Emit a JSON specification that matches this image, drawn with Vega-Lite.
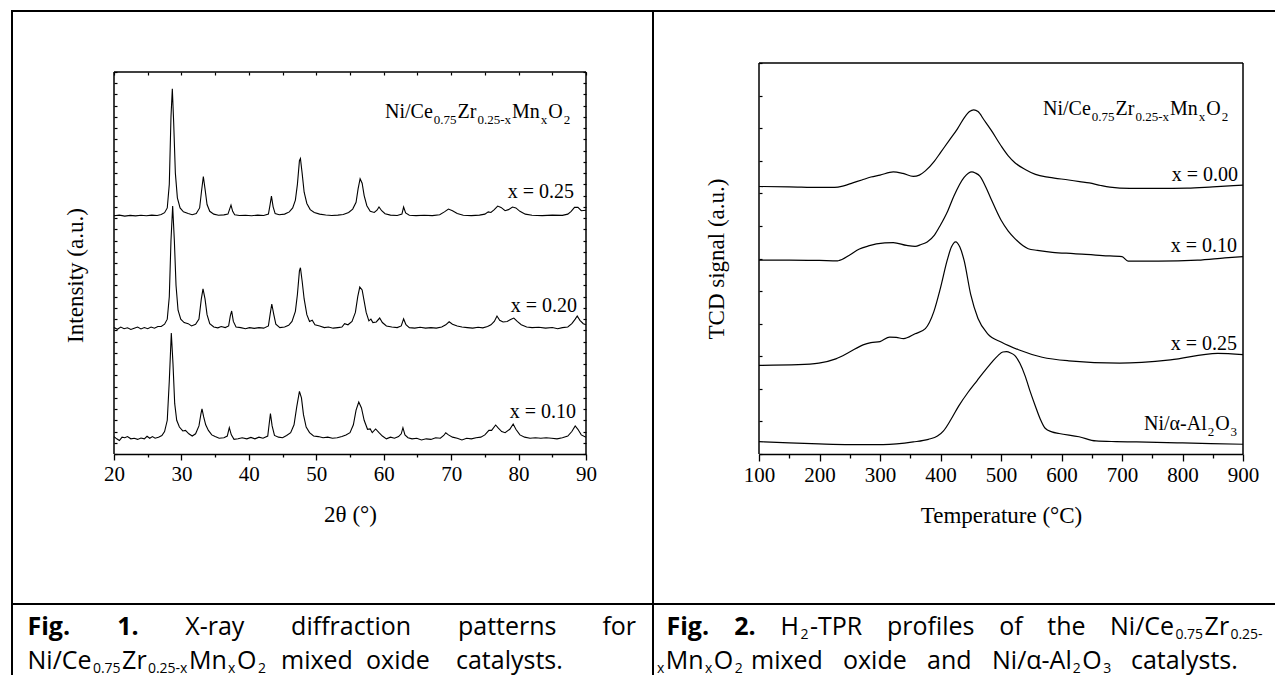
{
  "$schema": "https://vega.github.io/schema/vega-lite/v6.json",
  "background": "white",
  "padding": {"left": 10, "top": 9, "right": 0, "bottom": 0},
  "autosize": {"type": "pad"},
  "spacing": 173,
  "bounds": "flush",
  "config": {"view": {"stroke": null}, "axis": {"grid": false}},
  "datasets": {
    "xrd": [
      {"s":"0.25","x":20,"y":212},{"s":"0.25","x":20.8,"y":212.6},{"s":"0.25","x":21.6,"y":211.7},{"s":"0.25","x":22.4,"y":212.4},{"s":"0.25","x":23.2,"y":211.9},{"s":"0.25","x":24,"y":212.5},{"s":"0.25","x":24.8,"y":212},{"s":"0.25","x":25.6,"y":212.6},{"s":"0.25","x":26.4,"y":212.3},{"s":"0.25","x":27,"y":213.2},{"s":"0.25","x":27.5,"y":214.8},{"s":"0.25","x":27.9,"y":219},{"s":"0.25","x":28.2,"y":240},{"s":"0.25","x":28.45,"y":300},{"s":"0.25","x":28.65,"y":325},{"s":"0.25","x":28.85,"y":295},{"s":"0.25","x":29.1,"y":250},{"s":"0.25","x":29.4,"y":228},{"s":"0.25","x":29.8,"y":219},{"s":"0.25","x":30.3,"y":215.5},{"s":"0.25","x":31,"y":214},{"s":"0.25","x":31.6,"y":213},{"s":"0.25","x":32.2,"y":214},{"s":"0.25","x":32.7,"y":219},{"s":"0.25","x":33,"y":235},{"s":"0.25","x":33.25,"y":247},{"s":"0.25","x":33.5,"y":236},{"s":"0.25","x":33.8,"y":222},{"s":"0.25","x":34.2,"y":216},{"s":"0.25","x":34.8,"y":213.5},{"s":"0.25","x":35.5,"y":212.5},{"s":"0.25","x":36.3,"y":212.8},{"s":"0.25","x":36.9,"y":213.5},{"s":"0.25","x":37.15,"y":218},{"s":"0.25","x":37.35,"y":221.5},{"s":"0.25","x":37.6,"y":216},{"s":"0.25","x":37.9,"y":213},{"s":"0.25","x":38.6,"y":212.3},{"s":"0.25","x":39.5,"y":212.5},{"s":"0.25","x":40.4,"y":212},{"s":"0.25","x":41.3,"y":212.6},{"s":"0.25","x":42.2,"y":212.3},{"s":"0.25","x":42.9,"y":213.5},{"s":"0.25","x":43.15,"y":222},{"s":"0.25","x":43.35,"y":229.5},{"s":"0.25","x":43.6,"y":220},{"s":"0.25","x":43.9,"y":214},{"s":"0.25","x":44.5,"y":213},{"s":"0.25","x":45.3,"y":213.5},{"s":"0.25","x":46,"y":215.5},{"s":"0.25","x":46.5,"y":219},{"s":"0.25","x":46.9,"y":226},{"s":"0.25","x":47.2,"y":240},{"s":"0.25","x":47.5,"y":261},{"s":"0.25","x":47.65,"y":263},{"s":"0.25","x":47.9,"y":250},{"s":"0.25","x":48.2,"y":233},{"s":"0.25","x":48.6,"y":223},{"s":"0.25","x":49.1,"y":217.5},{"s":"0.25","x":49.7,"y":215},{"s":"0.25","x":50.5,"y":213.5},{"s":"0.25","x":51.4,"y":212.7},{"s":"0.25","x":52.3,"y":212.3},{"s":"0.25","x":53.2,"y":212.6},{"s":"0.25","x":54,"y":213.2},{"s":"0.25","x":54.8,"y":215},{"s":"0.25","x":55.4,"y":218},{"s":"0.25","x":55.9,"y":224},{"s":"0.25","x":56.2,"y":236},{"s":"0.25","x":56.5,"y":245},{"s":"0.25","x":56.8,"y":241},{"s":"0.25","x":57.1,"y":230},{"s":"0.25","x":57.5,"y":221},{"s":"0.25","x":58,"y":216},{"s":"0.25","x":58.6,"y":215},{"s":"0.25","x":59,"y":217},{"s":"0.25","x":59.3,"y":219.8},{"s":"0.25","x":59.7,"y":216.5},{"s":"0.25","x":60.2,"y":213.8},{"s":"0.25","x":61,"y":212.6},{"s":"0.25","x":62,"y":212.3},{"s":"0.25","x":62.7,"y":213.5},{"s":"0.25","x":62.95,"y":219.8},{"s":"0.25","x":63.25,"y":214.5},{"s":"0.25","x":63.8,"y":212.5},{"s":"0.25","x":64.8,"y":212.2},{"s":"0.25","x":66,"y":212.5},{"s":"0.25","x":67.2,"y":212.2},{"s":"0.25","x":68.3,"y":213},{"s":"0.25","x":69,"y":215.5},{"s":"0.25","x":69.6,"y":218},{"s":"0.25","x":70.2,"y":216.5},{"s":"0.25","x":70.9,"y":214},{"s":"0.25","x":71.8,"y":212.5},{"s":"0.25","x":73,"y":212.2},{"s":"0.25","x":74.2,"y":212.6},{"s":"0.25","x":75,"y":213.5},{"s":"0.25","x":75.5,"y":215.5},{"s":"0.25","x":75.9,"y":215},{"s":"0.25","x":76.4,"y":217.5},{"s":"0.25","x":76.9,"y":220.7},{"s":"0.25","x":77.4,"y":219.5},{"s":"0.25","x":78,"y":216.5},{"s":"0.25","x":78.5,"y":217.5},{"s":"0.25","x":79.1,"y":219.8},{"s":"0.25","x":79.6,"y":219},{"s":"0.25","x":80.2,"y":216},{"s":"0.25","x":81,"y":213.5},{"s":"0.25","x":82,"y":212.5},{"s":"0.25","x":83.5,"y":212.2},{"s":"0.25","x":85,"y":212.6},{"s":"0.25","x":86.5,"y":212.4},{"s":"0.25","x":87.3,"y":213.5},{"s":"0.25","x":87.8,"y":216},{"s":"0.25","x":88.3,"y":219.5},{"s":"0.25","x":88.8,"y":219.5},{"s":"0.25","x":89.3,"y":216.5},{"s":"0.25","x":90,"y":217},
      {"s":"0.20","x":20,"y":112.5},{"s":"0.20","x":20.5,"y":111},{"s":"0.20","x":21,"y":113},{"s":"0.20","x":21.5,"y":111.5},{"s":"0.20","x":22,"y":112.3},{"s":"0.20","x":22.5,"y":110.8},{"s":"0.20","x":23,"y":112},{"s":"0.20","x":23.5,"y":113},{"s":"0.20","x":24,"y":111.3},{"s":"0.20","x":24.5,"y":112.5},{"s":"0.20","x":25,"y":111.5},{"s":"0.20","x":25.5,"y":113},{"s":"0.20","x":26,"y":112},{"s":"0.20","x":26.5,"y":113.5},{"s":"0.20","x":27,"y":113.5},{"s":"0.20","x":27.5,"y":115.5},{"s":"0.20","x":27.9,"y":120},{"s":"0.20","x":28.2,"y":140},{"s":"0.20","x":28.45,"y":190},{"s":"0.20","x":28.7,"y":220.7},{"s":"0.20","x":28.95,"y":190},{"s":"0.20","x":29.2,"y":150},{"s":"0.20","x":29.5,"y":128},{"s":"0.20","x":29.9,"y":120},{"s":"0.20","x":30.4,"y":117},{"s":"0.20","x":31,"y":116},{"s":"0.20","x":31.5,"y":114},{"s":"0.20","x":32.1,"y":115.5},{"s":"0.20","x":32.6,"y":120},{"s":"0.20","x":32.95,"y":138},{"s":"0.20","x":33.2,"y":147},{"s":"0.20","x":33.5,"y":138},{"s":"0.20","x":33.8,"y":124},{"s":"0.20","x":34.2,"y":116},{"s":"0.20","x":34.8,"y":113},{"s":"0.20","x":35.4,"y":112.3},{"s":"0.20","x":35.9,"y":113.5},{"s":"0.20","x":36.5,"y":112.5},{"s":"0.20","x":37,"y":114},{"s":"0.20","x":37.25,"y":123},{"s":"0.20","x":37.45,"y":127.3},{"s":"0.20","x":37.7,"y":118},{"s":"0.20","x":38.1,"y":113},{"s":"0.20","x":38.8,"y":112.5},{"s":"0.20","x":39.5,"y":111.5},{"s":"0.20","x":40.1,"y":112.5},{"s":"0.20","x":40.8,"y":111.8},{"s":"0.20","x":41.5,"y":112.5},{"s":"0.20","x":42.2,"y":112},{"s":"0.20","x":42.9,"y":114},{"s":"0.20","x":43.2,"y":126},{"s":"0.20","x":43.4,"y":133.5},{"s":"0.20","x":43.7,"y":124},{"s":"0.20","x":44,"y":115.5},{"s":"0.20","x":44.6,"y":112.5},{"s":"0.20","x":45.3,"y":113},{"s":"0.20","x":45.9,"y":114.5},{"s":"0.20","x":46.4,"y":118},{"s":"0.20","x":46.9,"y":127},{"s":"0.20","x":47.2,"y":142},{"s":"0.20","x":47.5,"y":163},{"s":"0.20","x":47.65,"y":165.8},{"s":"0.20","x":47.9,"y":154},{"s":"0.20","x":48.2,"y":138},{"s":"0.20","x":48.6,"y":124},{"s":"0.20","x":49,"y":118},{"s":"0.20","x":49.4,"y":119},{"s":"0.20","x":49.8,"y":115},{"s":"0.20","x":50.5,"y":114},{"s":"0.20","x":51.2,"y":112.5},{"s":"0.20","x":51.8,"y":113},{"s":"0.20","x":52.5,"y":112},{"s":"0.20","x":53.2,"y":112.5},{"s":"0.20","x":53.8,"y":113},{"s":"0.20","x":54.2,"y":116},{"s":"0.20","x":54.7,"y":115},{"s":"0.20","x":55.3,"y":118},{"s":"0.20","x":55.8,"y":126},{"s":"0.20","x":56.15,"y":140},{"s":"0.20","x":56.45,"y":148.6},{"s":"0.20","x":56.8,"y":146},{"s":"0.20","x":57.1,"y":136},{"s":"0.20","x":57.4,"y":126},{"s":"0.20","x":57.8,"y":118.5},{"s":"0.20","x":58.1,"y":120},{"s":"0.20","x":58.4,"y":117},{"s":"0.20","x":58.9,"y":117.5},{"s":"0.20","x":59.4,"y":121},{"s":"0.20","x":59.8,"y":117},{"s":"0.20","x":60.4,"y":114},{"s":"0.20","x":61.2,"y":113},{"s":"0.20","x":62,"y":112.5},{"s":"0.20","x":62.6,"y":114},{"s":"0.20","x":62.95,"y":120.2},{"s":"0.20","x":63.3,"y":115},{"s":"0.20","x":63.8,"y":112.5},{"s":"0.20","x":64.6,"y":112},{"s":"0.20","x":65.4,"y":112.8},{"s":"0.20","x":66.2,"y":112},{"s":"0.20","x":67,"y":112.5},{"s":"0.20","x":67.8,"y":112},{"s":"0.20","x":68.6,"y":113},{"s":"0.20","x":69.2,"y":115},{"s":"0.20","x":69.7,"y":117.7},{"s":"0.20","x":70.2,"y":115.5},{"s":"0.20","x":70.9,"y":114},{"s":"0.20","x":71.6,"y":113},{"s":"0.20","x":72.4,"y":112.5},{"s":"0.20","x":73.2,"y":112},{"s":"0.20","x":74,"y":112.8},{"s":"0.20","x":74.7,"y":112.3},{"s":"0.20","x":75.4,"y":113.5},{"s":"0.20","x":75.9,"y":115},{"s":"0.20","x":76.4,"y":118},{"s":"0.20","x":76.8,"y":122.8},{"s":"0.20","x":77.2,"y":119},{"s":"0.20","x":77.7,"y":117.5},{"s":"0.20","x":78.3,"y":118},{"s":"0.20","x":78.9,"y":120},{"s":"0.20","x":79.3,"y":121},{"s":"0.20","x":79.8,"y":118},{"s":"0.20","x":80.4,"y":115},{"s":"0.20","x":81.2,"y":113},{"s":"0.20","x":82,"y":112.5},{"s":"0.20","x":83,"y":112.8},{"s":"0.20","x":84,"y":112},{"s":"0.20","x":85,"y":112.6},{"s":"0.20","x":85.8,"y":111.5},{"s":"0.20","x":86.5,"y":112.5},{"s":"0.20","x":87.3,"y":113},{"s":"0.20","x":87.9,"y":116},{"s":"0.20","x":88.4,"y":120},{"s":"0.20","x":88.7,"y":122.8},{"s":"0.20","x":89.1,"y":119},{"s":"0.20","x":89.6,"y":116},{"s":"0.20","x":90,"y":115},
      {"s":"0.10","x":20,"y":15.5},{"s":"0.10","x":20.4,"y":13.5},{"s":"0.10","x":20.8,"y":12},{"s":"0.10","x":21.2,"y":15},{"s":"0.10","x":21.6,"y":14.5},{"s":"0.10","x":22,"y":15.5},{"s":"0.10","x":22.5,"y":13.5},{"s":"0.10","x":23,"y":14},{"s":"0.10","x":23.5,"y":13},{"s":"0.10","x":24,"y":14.2},{"s":"0.10","x":24.5,"y":13.5},{"s":"0.10","x":24.9,"y":15.8},{"s":"0.10","x":25.3,"y":14},{"s":"0.10","x":25.7,"y":15.5},{"s":"0.10","x":26.1,"y":14},{"s":"0.10","x":26.6,"y":15},{"s":"0.10","x":27.1,"y":16.5},{"s":"0.10","x":27.5,"y":20},{"s":"0.10","x":27.9,"y":30},{"s":"0.10","x":28.2,"y":65},{"s":"0.10","x":28.5,"y":107.7},{"s":"0.10","x":28.75,"y":80},{"s":"0.10","x":29,"y":45},{"s":"0.10","x":29.3,"y":30},{"s":"0.10","x":29.7,"y":24},{"s":"0.10","x":30.2,"y":20.5},{"s":"0.10","x":30.6,"y":21},{"s":"0.10","x":31.1,"y":18},{"s":"0.10","x":31.6,"y":16},{"s":"0.10","x":32.1,"y":18},{"s":"0.10","x":32.6,"y":25},{"s":"0.10","x":32.9,"y":36},{"s":"0.10","x":33.05,"y":40.1},{"s":"0.10","x":33.3,"y":33},{"s":"0.10","x":33.6,"y":26},{"s":"0.10","x":34,"y":21},{"s":"0.10","x":34.5,"y":17},{"s":"0.10","x":35,"y":15.5},{"s":"0.10","x":35.6,"y":14},{"s":"0.10","x":36.3,"y":14.5},{"s":"0.10","x":36.8,"y":16},{"s":"0.10","x":37.1,"y":23.4},{"s":"0.10","x":37.4,"y":17},{"s":"0.10","x":37.8,"y":13},{"s":"0.10","x":38.4,"y":13.5},{"s":"0.10","x":39,"y":14.5},{"s":"0.10","x":39.7,"y":13.5},{"s":"0.10","x":40.3,"y":14.8},{"s":"0.10","x":40.9,"y":13.5},{"s":"0.10","x":41.5,"y":15},{"s":"0.10","x":42.1,"y":14},{"s":"0.10","x":42.8,"y":16},{"s":"0.10","x":43,"y":26},{"s":"0.10","x":43.2,"y":35.9},{"s":"0.10","x":43.45,"y":25},{"s":"0.10","x":43.8,"y":16.5},{"s":"0.10","x":44.4,"y":15},{"s":"0.10","x":45,"y":14.5},{"s":"0.10","x":45.6,"y":16.5},{"s":"0.10","x":46.2,"y":19},{"s":"0.10","x":46.7,"y":26},{"s":"0.10","x":47.1,"y":42},{"s":"0.10","x":47.5,"y":55.8},{"s":"0.10","x":47.8,"y":50},{"s":"0.10","x":48.1,"y":35},{"s":"0.10","x":48.5,"y":24},{"s":"0.10","x":49,"y":19},{"s":"0.10","x":49.6,"y":16},{"s":"0.10","x":50.3,"y":15.5},{"s":"0.10","x":51,"y":14.5},{"s":"0.10","x":51.7,"y":15},{"s":"0.10","x":52.4,"y":14},{"s":"0.10","x":53.1,"y":14.5},{"s":"0.10","x":53.8,"y":15.5},{"s":"0.10","x":54.4,"y":17},{"s":"0.10","x":55,"y":19},{"s":"0.10","x":55.5,"y":26},{"s":"0.10","x":55.9,"y":39},{"s":"0.10","x":56.3,"y":46.3},{"s":"0.10","x":56.7,"y":41},{"s":"0.10","x":57.1,"y":30},{"s":"0.10","x":57.6,"y":22},{"s":"0.10","x":58,"y":22.3},{"s":"0.10","x":58.3,"y":19},{"s":"0.10","x":58.8,"y":22.3},{"s":"0.10","x":59.3,"y":19},{"s":"0.10","x":59.8,"y":16},{"s":"0.10","x":60.4,"y":13.5},{"s":"0.10","x":61,"y":15},{"s":"0.10","x":61.6,"y":14},{"s":"0.10","x":62.2,"y":15.5},{"s":"0.10","x":62.6,"y":18},{"s":"0.10","x":62.85,"y":23.4},{"s":"0.10","x":63.15,"y":17},{"s":"0.10","x":63.6,"y":14.5},{"s":"0.10","x":64.2,"y":13.5},{"s":"0.10","x":64.9,"y":14},{"s":"0.10","x":65.6,"y":12.5},{"s":"0.10","x":66.3,"y":13.5},{"s":"0.10","x":67,"y":13},{"s":"0.10","x":67.7,"y":14.5},{"s":"0.10","x":68.4,"y":14},{"s":"0.10","x":68.9,"y":16.5},{"s":"0.10","x":69.2,"y":18.9},{"s":"0.10","x":69.6,"y":17},{"s":"0.10","x":70.2,"y":15},{"s":"0.10","x":70.9,"y":14},{"s":"0.10","x":71.6,"y":12.5},{"s":"0.10","x":72.3,"y":14},{"s":"0.10","x":73,"y":13.5},{"s":"0.10","x":73.7,"y":14.5},{"s":"0.10","x":74.4,"y":15},{"s":"0.10","x":75,"y":17},{"s":"0.10","x":75.6,"y":21},{"s":"0.10","x":76,"y":21},{"s":"0.10","x":76.6,"y":25.8},{"s":"0.10","x":77,"y":23},{"s":"0.10","x":77.5,"y":20},{"s":"0.10","x":78,"y":19},{"s":"0.10","x":78.7,"y":22},{"s":"0.10","x":79.2,"y":26.7},{"s":"0.10","x":79.6,"y":22},{"s":"0.10","x":80.2,"y":17},{"s":"0.10","x":80.9,"y":15},{"s":"0.10","x":81.7,"y":14},{"s":"0.10","x":82.5,"y":14.5},{"s":"0.10","x":83.3,"y":14},{"s":"0.10","x":84.1,"y":14.5},{"s":"0.10","x":84.9,"y":14},{"s":"0.10","x":85.7,"y":13.5},{"s":"0.10","x":86.5,"y":14.5},{"s":"0.10","x":87.3,"y":16},{"s":"0.10","x":87.9,"y":20},{"s":"0.10","x":88.4,"y":24.9},{"s":"0.10","x":88.8,"y":22},{"s":"0.10","x":89.3,"y":17},{"s":"0.10","x":90,"y":15}
    ],
    "tpr": [
      {"s":"0.00","x":100,"y":82.1},{"s":"0.00","x":150,"y":82.0},{"s":"0.00","x":200,"y":81.8},{"s":"0.00","x":225,"y":81.8},{"s":"0.00","x":240,"y":82.3},{"s":"0.00","x":255,"y":83.2},{"s":"0.00","x":270,"y":84.1},{"s":"0.00","x":285,"y":85.0},{"s":"0.00","x":300,"y":85.6},{"s":"0.00","x":322,"y":86.6},{"s":"0.00","x":338,"y":86.1},{"s":"0.00","x":355,"y":85.2},{"s":"0.00","x":365,"y":85.6},{"s":"0.00","x":375,"y":86.9},{"s":"0.00","x":390,"y":89.9},{"s":"0.00","x":400,"y":92.5},{"s":"0.00","x":415,"y":96.4},{"s":"0.00","x":428,"y":99.8},{"s":"0.00","x":440,"y":103.4},{"s":"0.00","x":448,"y":105.1},{"s":"0.00","x":455,"y":105.6},{"s":"0.00","x":462,"y":105.1},{"s":"0.00","x":472,"y":102.5},{"s":"0.00","x":484,"y":99.3},{"s":"0.00","x":500,"y":94.6},{"s":"0.00","x":512,"y":91.5},{"s":"0.00","x":523,"y":89.4},{"s":"0.00","x":540,"y":87.3},{"s":"0.00","x":557,"y":85.8},{"s":"0.00","x":580,"y":84.9},{"s":"0.00","x":612,"y":84.1},{"s":"0.00","x":630,"y":83.6},{"s":"0.00","x":646,"y":83.2},{"s":"0.00","x":665,"y":82.4},{"s":"0.00","x":680,"y":81.9},{"s":"0.00","x":713,"y":81.5},{"s":"0.00","x":760,"y":81.5},{"s":"0.00","x":808,"y":81.6},{"s":"0.00","x":850,"y":82.0},{"s":"0.00","x":900,"y":82.5},
      {"s":"0.10","x":100,"y":59.5},{"s":"0.10","x":150,"y":59.5},{"s":"0.10","x":200,"y":59.4},{"s":"0.10","x":230,"y":59.3},{"s":"0.10","x":233,"y":59.4},{"s":"0.10","x":250,"y":61.1},{"s":"0.10","x":266,"y":62.9},{"s":"0.10","x":280,"y":63.8},{"s":"0.10","x":294,"y":64.5},{"s":"0.10","x":322,"y":64.9},{"s":"0.10","x":344,"y":64.0},{"s":"0.10","x":358,"y":63.7},{"s":"0.10","x":368,"y":64.3},{"s":"0.10","x":378,"y":65.1},{"s":"0.10","x":390,"y":67.2},{"s":"0.10","x":400,"y":70.3},{"s":"0.10","x":412,"y":74.6},{"s":"0.10","x":422,"y":79.1},{"s":"0.10","x":439,"y":84.9},{"s":"0.10","x":446,"y":86.2},{"s":"0.10","x":452,"y":86.6},{"s":"0.10","x":458,"y":86.2},{"s":"0.10","x":465,"y":85.3},{"s":"0.10","x":475,"y":81.9},{"s":"0.10","x":484,"y":78.1},{"s":"0.10","x":500,"y":71.8},{"s":"0.10","x":512,"y":68.4},{"s":"0.10","x":523,"y":66.1},{"s":"0.10","x":545,"y":63.0},{"s":"0.10","x":560,"y":62.5},{"s":"0.10","x":585,"y":61.9},{"s":"0.10","x":620,"y":61.5},{"s":"0.10","x":668,"y":60.9},{"s":"0.10","x":700,"y":60.6},{"s":"0.10","x":710,"y":59.2},{"s":"0.10","x":760,"y":59.2},{"s":"0.10","x":825,"y":59.5},{"s":"0.10","x":870,"y":60.2},{"s":"0.10","x":900,"y":60.6},
      {"s":"0.25","x":100,"y":27.2},{"s":"0.25","x":165,"y":27.4},{"s":"0.25","x":199,"y":27.9},{"s":"0.25","x":227,"y":29.2},{"s":"0.25","x":249,"y":31.2},{"s":"0.25","x":272,"y":33.5},{"s":"0.25","x":285,"y":34.2},{"s":"0.25","x":300,"y":34.5},{"s":"0.25","x":316,"y":35.9},{"s":"0.25","x":327,"y":35.8},{"s":"0.25","x":339,"y":35.4},{"s":"0.25","x":358,"y":36.9},{"s":"0.25","x":375,"y":38.5},{"s":"0.25","x":389,"y":43.7},{"s":"0.25","x":400,"y":51.0},{"s":"0.25","x":411,"y":59.4},{"s":"0.25","x":418,"y":63.5},{"s":"0.25","x":425,"y":65.1},{"s":"0.25","x":432,"y":63.5},{"s":"0.25","x":439,"y":59.4},{"s":"0.25","x":450,"y":48.9},{"s":"0.25","x":462,"y":41.6},{"s":"0.25","x":478,"y":36.9},{"s":"0.25","x":501,"y":34.3},{"s":"0.25","x":529,"y":32.0},{"s":"0.25","x":568,"y":29.7},{"s":"0.25","x":612,"y":28.6},{"s":"0.25","x":696,"y":27.9},{"s":"0.25","x":780,"y":28.9},{"s":"0.25","x":858,"y":30.9},{"s":"0.25","x":900,"y":30.5},
      {"s":"Al","x":100,"y":3.8},{"s":"Al","x":150,"y":3.4},{"s":"Al","x":199,"y":3.1},{"s":"Al","x":250,"y":2.9},{"s":"Al","x":305,"y":2.9},{"s":"Al","x":355,"y":3.7},{"s":"Al","x":380,"y":4.5},{"s":"Al","x":395,"y":5.5},{"s":"Al","x":405,"y":7.1},{"s":"Al","x":417,"y":10.5},{"s":"Al","x":430,"y":14.7},{"s":"Al","x":445,"y":18.8},{"s":"Al","x":460,"y":22.4},{"s":"Al","x":473,"y":25.5},{"s":"Al","x":485,"y":28.2},{"s":"Al","x":495,"y":30.2},{"s":"Al","x":503,"y":31.3},{"s":"Al","x":509,"y":31.4},{"s":"Al","x":516,"y":31.0},{"s":"Al","x":523,"y":30.2},{"s":"Al","x":531,"y":27.9},{"s":"Al","x":540,"y":23.9},{"s":"Al","x":548,"y":19.3},{"s":"Al","x":557,"y":14.6},{"s":"Al","x":565,"y":10.7},{"s":"Al","x":573,"y":7.9},{"s":"Al","x":584,"y":6.8},{"s":"Al","x":596,"y":6.3},{"s":"Al","x":629,"y":5.3},{"s":"Al","x":657,"y":4.0},{"s":"Al","x":690,"y":3.8},{"s":"Al","x":724,"y":3.7},{"s":"Al","x":800,"y":3.4},{"s":"Al","x":900,"y":3.0}
    ],
    "frameL": [
      {"x":20,"x2":90,"y":340,"y2":340},{"x":20,"x2":20,"y":0,"y2":340},{"x":90,"x2":90,"y":0,"y2":340}
    ],
    "frameR": [
      {"x":100,"x2":900,"y":120,"y2":120},{"x":100,"x2":100,"y":0,"y2":120},{"x":900,"x2":900,"y":0,"y2":120}
    ],
    "table": [
      {"x":4.873,"x2":192.034,"y":394.28,"y2":394.28},
      {"x":4.873,"x2":4.873,"y":394.28,"y2":-195.81},
      {"x":99.936,"x2":99.936,"y":394.28,"y2":-195.81},
      {"x":4.873,"x2":192.034,"y":-133.5,"y2":-133.5}
    ],
    "tL": [
      {"k":"lab","t":"Ni/Ce","x":60.191,"y":299.05},
      {"k":"lab","t":"Zr","x":70.95,"y":299.05},
      {"k":"lab","t":"Mn","x":79.032,"y":299.05},
      {"k":"lab","t":"O","x":84.416,"y":299.05},
      {"k":"sub","t":"0.75","x":67.428,"y":293.71},
      {"k":"sub","t":"0.25-x","x":73.901,"y":293.71},
      {"k":"sub","t":"x","x":83.304,"y":293.71},
      {"k":"sub","t":"2","x":86.7,"y":293.71},
      {"k":"labr","t":"x = 0.25","x":88.221,"y":227.85},
      {"k":"labr","t":"x = 0.20","x":88.666,"y":126.74},
      {"k":"labr","t":"x = 0.10","x":88.517,"y":32.4},
      {"k":"capb","t":"Fig.","x":7.172,"y":-161.095},
      {"k":"capb","t":"1.","x":20.475,"y":-161.095},
      {"k":"cap","t":"X-ray","x":30.559,"y":-161.095},
      {"k":"cap","t":"diffraction","x":46.265,"y":-161.095},
      {"k":"cap","t":"patterns","x":71.017,"y":-161.095},
      {"k":"cap","t":"for","x":92.432,"y":-161.095},
      {"k":"cap","t":"Ni/Ce","x":7.172,"y":-191.355},
      {"k":"cap","t":"Zr","x":21.201,"y":-191.355},
      {"k":"cap","t":"Mn","x":31.123,"y":-191.355},
      {"k":"cap","t":"O","x":38.227,"y":-191.355},
      {"k":"cap","t":"mixed","x":44.767,"y":-191.355},
      {"k":"cap","t":"oxide","x":57.373,"y":-191.355},
      {"k":"cap","t":"catalysts.","x":70.72,"y":-191.355},
      {"k":"caps","t":"0.75","x":16.871,"y":-194.471},
      {"k":"caps","t":"0.25-x","x":25.028,"y":-194.471},
      {"k":"caps","t":"x","x":36.922,"y":-194.471},
      {"k":"caps","t":"2","x":41.341,"y":-194.471}
    ],
    "tR": [
      {"k":"lab","t":"Ni/Ce","x":569.42,"y":104.04},
      {"k":"lab","t":"Zr","x":689.34,"y":104.04},
      {"k":"lab","t":"Mn","x":779.42,"y":104.04},
      {"k":"lab","t":"O","x":839.42,"y":104.04},
      {"k":"sub","t":"0.75","x":650.08,"y":102.2},
      {"k":"sub","t":"0.25-x","x":722.23,"y":102.2},
      {"k":"sub","t":"x","x":827.02,"y":102.2},
      {"k":"sub","t":"2","x":864.88,"y":102.2},
      {"k":"lab","t":"Ni/α-Al","x":736.36,"y":7.366},
      {"k":"lab","t":"O","x":854.05,"y":7.366},
      {"k":"sub","t":"2","x":841.65,"y":5.524},
      {"k":"sub","t":"3","x":879.5,"y":5.524},
      {"k":"labr","t":"x = 0.00","x":891.74,"y":83.91},
      {"k":"labr","t":"x = 0.10","x":890.08,"y":62.0},
      {"k":"labr","t":"x = 0.25","x":890.08,"y":32.04},
      {"k":"capb","t":"Fig.","x":-52.89,"y":-55.55},
      {"k":"capb","t":"2.","x":59.17,"y":-55.55},
      {"k":"cap","t":"H","x":135.37,"y":-55.55},
      {"k":"cap","t":"-TPR","x":184.13,"y":-55.55},
      {"k":"cap","t":"profiles","x":311.57,"y":-55.55},
      {"k":"cap","t":"of","x":497.02,"y":-55.55},
      {"k":"cap","t":"the","x":576.53,"y":-55.55},
      {"k":"cap","t":"Ni/Ce","x":680.17,"y":-55.55},
      {"k":"cap","t":"Zr","x":836.53,"y":-55.55},
      {"k":"caps","t":"2","x":168.43,"y":-56.777},
      {"k":"caps","t":"0.75","x":788.26,"y":-56.777},
      {"k":"caps","t":"0.25-","x":879.17,"y":-56.777},
      {"k":"cap","t":"Mn","x":-54.05,"y":-65.985},
      {"k":"cap","t":"O","x":25.12,"y":-65.985},
      {"k":"cap","t":"mixed","x":86.78,"y":-65.985},
      {"k":"cap","t":"oxide","x":238.84,"y":-65.985},
      {"k":"cap","t":"and","x":377.69,"y":-65.985},
      {"k":"cap","t":"Ni/α-Al","x":485.12,"y":-65.985},
      {"k":"cap","t":"O","x":634.38,"y":-65.985},
      {"k":"cap","t":"catalysts.","x":714.88,"y":-65.985},
      {"k":"caps","t":"x","x":-68.6,"y":-67.059},
      {"k":"caps","t":"x","x":10.58,"y":-67.059},
      {"k":"caps","t":"2","x":59.83,"y":-67.059},
      {"k":"caps","t":"2","x":618.68,"y":-67.059},
      {"k":"caps","t":"3","x":669.09,"y":-67.059}
    ]
  },
  "hconcat": [
    {
      "width": 472,
      "height": 391,
      "encoding": {
        "x": {"field": "x", "type": "quantitative", "scale": {"domain": [20, 90], "nice": false, "zero": false}, "axis": null},
        "y": {"field": "y", "type": "quantitative", "scale": {"domain": [0, 348], "nice": false, "zero": false}, "axis": null}
      },
      "resolve": {"axis": {"x": "independent", "y": "independent"}},
      "layer": [
        {
          "data": {"name": "table"},
          "mark": {"type": "rule", "color": "#000", "strokeWidth": 2, "strokeCap": "square"},
          "encoding": {"x2": {"field": "x2"}, "y2": {"field": "y2"}}
        },
        {
          "data": {"name": "xrd"},
          "mark": {"type": "line", "color": "#000", "strokeWidth": 1.1},
          "encoding": {
            "x": {"field": "x", "type": "quantitative", "scale": {"domain": [20, 90], "nice": false, "zero": false},
              "axis": {"orient": "bottom", "values": [20,25,30,35,40,45,50,55,60,65,70,75,80,85,90],
                "labelExpr": "datum.value % 10 === 0 ? datum.label : ''",
                "tickSize": {"condition": {"test": "datum.value % 10 === 0", "value": 6}, "value": 3},
                "tickColor": "#000", "tickWidth": 1.3, "domainColor": "#000", "domainWidth": 1.5,
                "labelFont": "Liberation Serif", "labelFontSize": 21, "labelColor": "#000", "labelPadding": 3,
                "labelFlush": false, "labelOverlap": false,
                "title": "2θ (°)", "titleFont": "Liberation Serif", "titleFontSize": 23, "titleFontWeight": "normal", "titleColor": "#000", "titlePadding": 19}},
            "y": {"field": "y", "type": "quantitative", "scale": {"domain": [0, 348], "nice": false, "zero": false},
              "axis": {"orient": "left", "values": [0,10,20,30,40,50,60,70,80,90,100,110,120,130,140,150,160,170,180,190,200,210,220,230,240,250,260,270,280,290,300,310,320,330,340],
                "tickSize": -3, "tickColor": "#000", "tickWidth": 1.2, "labels": false, "domain": false,
                "title": "Intensity (a.u.)", "titleFont": "Liberation Serif", "titleFontSize": 23, "titleFontWeight": "normal", "titleColor": "#000", "titlePadding": 26, "titleY": 212}},
            "detail": {"field": "s"}
          }
        },
        {
          "data": {"name": "frameL"},
          "mark": {"type": "rule", "color": "#000", "strokeWidth": 1.5},
          "encoding": {
            "x": {"field": "x", "type": "quantitative", "scale": {"domain": [20, 90], "nice": false, "zero": false},
              "axis": {"orient": "top", "offset": -9, "values": [20,25,30,35,40,45,50,55,60,65,70,75,80,85,90], "tickSize": -3, "tickColor": "#000", "tickWidth": 1.2, "labels": false, "domain": false, "title": null}},
            "y": {"field": "y", "type": "quantitative", "scale": {"domain": [0, 348], "nice": false, "zero": false},
              "axis": {"orient": "right", "values": [0,10,20,30,40,50,60,70,80,90,100,110,120,130,140,150,160,170,180,190,200,210,220,230,240,250,260,270,280,290,300,310,320,330,340], "tickSize": -3, "tickColor": "#000", "tickWidth": 1.2, "labels": false, "domain": false, "title": null}},
            "x2": {"field": "x2"},
            "y2": {"field": "y2"}
          }
        },
        {
          "data": {"name": "tL"},
          "transform": [{"filter": "datum.k === 'lab'"}],
          "mark": {"type": "text", "align": "left", "baseline": "alphabetic", "font": "Liberation Serif", "fontSize": 20, "color": "#000"},
          "encoding": {"text": {"field": "t"}}
        },
        {
          "data": {"name": "tL"},
          "transform": [{"filter": "datum.k === 'sub'"}],
          "mark": {"type": "text", "align": "left", "baseline": "alphabetic", "font": "Liberation Serif", "fontSize": 13, "color": "#000"},
          "encoding": {"text": {"field": "t"}}
        },
        {
          "data": {"name": "tL"},
          "transform": [{"filter": "datum.k === 'labr'"}],
          "mark": {"type": "text", "align": "right", "baseline": "alphabetic", "font": "Liberation Serif", "fontSize": 20, "color": "#000"},
          "encoding": {"text": {"field": "t"}}
        },
        {
          "data": {"name": "tL"},
          "transform": [{"filter": "datum.k === 'capb'"}],
          "mark": {"type": "text", "align": "left", "baseline": "alphabetic", "font": "Open Sans", "fontSize": 25, "fontWeight": "bold", "color": "#000"},
          "encoding": {"text": {"field": "t"}}
        },
        {
          "data": {"name": "tL"},
          "transform": [{"filter": "datum.k === 'cap'"}],
          "mark": {"type": "text", "align": "left", "baseline": "alphabetic", "font": "Open Sans", "fontSize": 25, "color": "#000"},
          "encoding": {"text": {"field": "t"}}
        },
        {
          "data": {"name": "tL"},
          "transform": [{"filter": "datum.k === 'caps'"}],
          "mark": {"type": "text", "align": "left", "baseline": "alphabetic", "font": "Open Sans", "fontSize": 14, "color": "#000"},
          "encoding": {"text": {"field": "t"}}
        }
      ]
    },
    {
      "width": 484,
      "height": 391,
      "encoding": {
        "x": {"field": "x", "type": "quantitative", "scale": {"domain": [100, 900], "nice": false, "zero": false}, "axis": null},
        "y": {"field": "y", "type": "quantitative", "scale": {"domain": [0, 120], "nice": false, "zero": false}, "axis": null}
      },
      "resolve": {"axis": {"x": "independent", "y": "independent"}},
      "layer": [
        {
          "data": {"name": "tpr"},
          "mark": {"type": "line", "color": "#000", "strokeWidth": 1.2, "interpolate": "monotone"},
          "encoding": {
            "x": {"field": "x", "type": "quantitative", "scale": {"domain": [100, 900], "nice": false, "zero": false},
              "axis": {"orient": "bottom", "values": [100,150,200,250,300,350,400,450,500,550,600,650,700,750,800,850,900],
                "labelExpr": "datum.value % 100 === 0 ? datum.label : ''",
                "tickSize": {"condition": {"test": "datum.value % 100 === 0", "value": 7}, "value": 4},
                "tickColor": "#000", "tickWidth": 1.3, "domainColor": "#000", "domainWidth": 1.5,
                "labelFont": "Liberation Serif", "labelFontSize": 21, "labelColor": "#000", "labelPadding": 3,
                "labelFlush": false, "labelOverlap": false,
                "title": "Temperature (°C)", "titleFont": "Liberation Serif", "titleFontSize": 23, "titleFontWeight": "normal", "titleColor": "#000", "titlePadding": 19}},
            "y": {"field": "y", "type": "quantitative", "scale": {"domain": [0, 120], "nice": false, "zero": false},
              "axis": {"orient": "left", "values": [0,10,20,30,40,50,60,70,80,90,100,110,120],
                "tickSize": -3, "tickColor": "#000", "tickWidth": 1.2, "labels": false, "domain": false,
                "title": "TCD signal (a.u.)", "titleFont": "Liberation Serif", "titleFontSize": 23, "titleFontWeight": "normal", "titleColor": "#000", "titlePadding": 30}},
            "detail": {"field": "s"}
          }
        },
        {
          "data": {"name": "frameR"},
          "mark": {"type": "rule", "color": "#000", "strokeWidth": 1.5},
          "encoding": {"x2": {"field": "x2"}, "y2": {"field": "y2"}}
        },
        {
          "data": {"name": "tR"},
          "transform": [{"filter": "datum.k === 'lab'"}],
          "mark": {"type": "text", "align": "left", "baseline": "alphabetic", "font": "Liberation Serif", "fontSize": 20, "color": "#000"},
          "encoding": {"text": {"field": "t"}}
        },
        {
          "data": {"name": "tR"},
          "transform": [{"filter": "datum.k === 'sub'"}],
          "mark": {"type": "text", "align": "left", "baseline": "alphabetic", "font": "Liberation Serif", "fontSize": 13, "color": "#000"},
          "encoding": {"text": {"field": "t"}}
        },
        {
          "data": {"name": "tR"},
          "transform": [{"filter": "datum.k === 'labr'"}],
          "mark": {"type": "text", "align": "right", "baseline": "alphabetic", "font": "Liberation Serif", "fontSize": 20, "color": "#000"},
          "encoding": {"text": {"field": "t"}}
        },
        {
          "data": {"name": "tR"},
          "transform": [{"filter": "datum.k === 'capb'"}],
          "mark": {"type": "text", "align": "left", "baseline": "alphabetic", "font": "Open Sans", "fontSize": 25, "fontWeight": "bold", "color": "#000"},
          "encoding": {"text": {"field": "t"}}
        },
        {
          "data": {"name": "tR"},
          "transform": [{"filter": "datum.k === 'cap'"}],
          "mark": {"type": "text", "align": "left", "baseline": "alphabetic", "font": "Open Sans", "fontSize": 25, "color": "#000"},
          "encoding": {"text": {"field": "t"}}
        },
        {
          "data": {"name": "tR"},
          "transform": [{"filter": "datum.k === 'caps'"}],
          "mark": {"type": "text", "align": "left", "baseline": "alphabetic", "font": "Open Sans", "fontSize": 14, "color": "#000"},
          "encoding": {"text": {"field": "t"}}
        }
      ]
    }
  ]
}
